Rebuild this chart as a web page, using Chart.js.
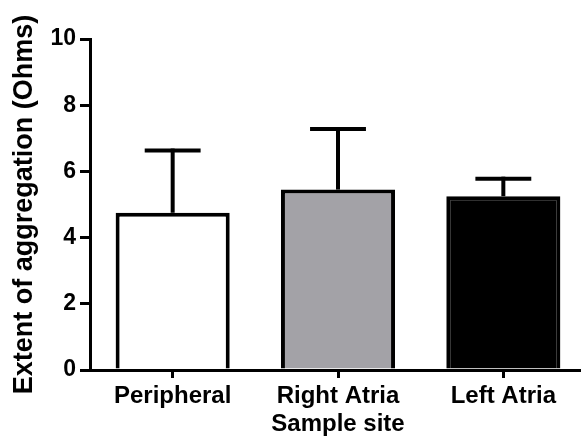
<!DOCTYPE html>
<html>
<head>
<meta charset="utf-8">
<script src="https://cdn.jsdelivr.net/npm/chart.js@4.4.1/dist/chart.umd.min.js"></script>
<style>
  html, body { margin: 0; padding: 0; background: #fff; overflow: hidden; }
  canvas { display: block; }
</style>
</head>
<body>
<canvas id="bar-chart" width="586" height="448"></canvas>
<script>
// aggregation per sample site: mean and upper error (SD)
var sites = ["Peripheral", "Right Atria", "Left Atria"];
var means = [4.75, 5.45, 5.25];
var errUp = [1.88, 1.83, 0.53];
var yTicks = [0, 2, 4, 6, 8, 10];

var barFills = ["#ffffff", "#a3a2a7", "#000000"];

// one-sided error bars drawn on top of each bar
var errorBars = {
    id: "errorBars",
    afterDatasetsDraw: function(chart) {
        var ctx = chart.ctx;
        var yScale = chart.scales.y;
        var meta = chart.getDatasetMeta(0);
        ctx.save();
        ctx.strokeStyle = "#000";
        ctx.lineWidth = 4;
        ctx.lineCap = "butt";
        meta.data.forEach(function(bar, i) {
            var yTop = yScale.getPixelForValue(means[i] + errUp[i]);
            var half = bar.width * 0.245;
            ctx.beginPath();
            ctx.moveTo(bar.x, bar.y);
            ctx.lineTo(bar.x, yTop - 2);
            ctx.stroke();
            ctx.beginPath();
            ctx.moveTo(bar.x - half, yTop);
            ctx.lineTo(bar.x + half, yTop);
            ctx.stroke();
        });
        ctx.restore();
    }
};

Chart.defaults.font.family = "'Liberation Sans', Arial, sans-serif";
Chart.defaults.font.weight = "bold";
Chart.defaults.font.size = 24;
Chart.defaults.color = "#000";

new Chart(document.getElementById("bar-chart"), {
    type: "bar",
    data: {
        labels: sites,
        datasets: [{
            data: means,
            backgroundColor: barFills,
            borderColor: "#000",
            borderWidth: 4,
            barPercentage: 0.69,
            categoryPercentage: 1
        }]
    },
    options: {
        responsive: false,
        animation: false,
        layout: { padding: { top: 39, right: 0, bottom: 0, left: 0 } },
        plugins: {
            legend: { display: false },
            tooltip: { enabled: false }
        },
        scales: {
            x: {
                z: 1,
                grid: {
                    offset: false,
                    drawOnChartArea: false,
                    drawTicks: true,
                    tickLength: 8,
                    lineWidth: 3,
                    tickColor: "#000"
                },
                border: { display: true, color: "#000", width: 3 },
                ticks: { padding: 4, maxRotation: 0 },
                title: {
                    display: true,
                    text: "Sample site",
                    padding: { top: 0, bottom: 9 }
                },
                afterFit: function(scale) { scale.height = 78; }
            },
            y: {
                min: 0,
                max: 10,
                grid: {
                    drawOnChartArea: false,
                    drawTicks: true,
                    tickLength: 10,
                    lineWidth: 3,
                    tickColor: "#000"
                },
                border: { display: true, color: "#000", width: 3 },
                ticks: { padding: 4, font: { size: 23 } },
                afterBuildTicks: function(scale) {
                    scale.ticks = yTicks.map(function(v) { return { value: v }; });
                },
                title: {
                    display: true,
                    text: "Extent of aggregation (Ohms)",
                    font: { size: 27 },
                    padding: { top: 8, bottom: 0 }
                },
                afterFit: function(scale) { scale.width = 90; }
            }
        }
    },
    plugins: [errorBars]
});
</script>
</body>
</html>
